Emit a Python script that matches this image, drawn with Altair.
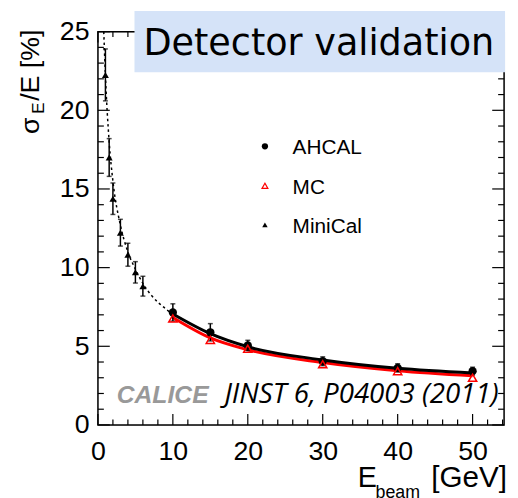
import altair as alt
import pandas as pd

# ---------------- data ----------------
# AHCAL (black filled circles)
AH_E = [10, 15, 20, 30, 40, 50]
AH_V = [7.15, 5.89, 5.05, 4.05, 3.63, 3.42]
AH_ERR = [0.55, 0.55, 0.33, 0.28, 0.26, 0.25]

# MC (red open triangles)
MC_E = [10, 15, 20, 30, 40, 50]
MC_V = [6.77, 5.41, 4.84, 3.86, 3.42, 3.00]

# MiniCal (black filled triangles)
MINI_E = [1, 1.5, 2, 3, 4, 5, 6]
MINI_V = [22.25, 17.0, 14.38, 12.22, 10.82, 9.70, 8.82]
MINI_ERR = [1.65, 1.2, 1.0, 0.85, 0.73, 0.68, 0.63]

# fitted curves
FIT_AH_E = [10, 15, 20, 30, 40, 50]
FIT_AH_V = [7.05, 5.80, 4.97, 4.13, 3.60, 3.30]
FIT_MC_E = [10, 15, 20, 30, 40, 50]
FIT_MC_V = [6.83, 5.53, 4.78, 3.97, 3.45, 3.13]
FIT_MINI_E = [0.78, 1, 1.5, 2, 3, 4, 5, 6, 8, 9, 10]
FIT_MINI_V = [25.0, 22.2, 18.0, 15.5, 12.7, 11.0, 9.9, 9.0, 7.8, 7.4, 7.0]

# axes
X_LABELS = [0, 10, 20, 30, 40, 50]
Y_LABELS = [0, 5, 10, 15, 20, 25]
X_MINOR = [v for v in range(2, 55, 2) if v % 10 != 0]
Y_MINOR = [v for v in range(1, 25) if v % 5 != 0]
X_DOMAIN = [0, 54.2]
Y_DOMAIN = [0, 25]

LEGEND = ["AHCAL", "MC", "MiniCal"]
TITLE = "Detector validation"
REF_GREY = "CALICE"
REF = "JINST 6, P04003 (2011)"

W, H = 411, 398
FONT = "Liberation Sans"

xscale = alt.Scale(domain=X_DOMAIN, nice=False, zero=False)
yscale = alt.Scale(domain=Y_DOMAIN, nice=False, zero=False)
xaxis = alt.Axis(values=X_LABELS, labelFontSize=27, labelFont=FONT, labelColor="black",
                 ticks=False, tickSize=0, domain=False, grid=False, labelPadding=14,
                 title=None, labelFlush=False, labelOverlap=False)
yaxis = alt.Axis(values=Y_LABELS, labelFontSize=27, labelFont=FONT, labelColor="black",
                 ticks=False, tickSize=0, domain=False, grid=False, labelPadding=9,
                 title=None, labelFlush=False, labelOverlap=False)


def X(field):
    return alt.X(f"{field}:Q", scale=xscale, axis=xaxis)


def Y(field):
    return alt.Y(f"{field}:Q", scale=yscale, axis=yaxis)


one = alt.Data(values=[{"a": 1}])

layers = []

# frame
layers.append(alt.Chart(one).mark_rect(filled=False, stroke="black", strokeWidth=1.5).encode(
    x=alt.value(0), x2=alt.value(W), y=alt.value(0), y2=alt.value(H)))


def xticks(vals, length, top):
    df = pd.DataFrame({"t": vals})
    y0 = 0 if top else H
    y1 = length if top else H - length
    return alt.Chart(df).mark_rule(color="black", strokeWidth=1.2).encode(
        x=X("t"), y=alt.value(y0), y2=alt.value(y1))


def yticks(vals, length, right):
    df = pd.DataFrame({"t": vals})
    x0 = W if right else 0
    x1 = W - length if right else length
    return alt.Chart(df).mark_rule(color="black", strokeWidth=1.2).encode(
        y=Y("t"), x=alt.value(x0), x2=alt.value(x1))


for top in (False, True):
    layers.append(xticks(X_LABELS, 11, top))
    layers.append(xticks(X_MINOR, 5.5, top))
for right in (False, True):
    layers.append(yticks(Y_LABELS, 12, right))
    layers.append(yticks(Y_MINOR, 6, right))

# curves
fit_mini = pd.DataFrame({"e": FIT_MINI_E, "v": FIT_MINI_V})
fit_mc = pd.DataFrame({"e": FIT_MC_E, "v": FIT_MC_V})
fit_ah = pd.DataFrame({"e": FIT_AH_E, "v": FIT_AH_V})
layers.append(alt.Chart(fit_mini).mark_line(color="black", strokeWidth=1.5, strokeDash=[2.5, 3],
                                            interpolate="monotone").encode(x=X("e"), y=Y("v")))
layers.append(alt.Chart(fit_mc).mark_line(color="red", strokeWidth=3,
                                          interpolate="monotone").encode(x=X("e"), y=Y("v")))
layers.append(alt.Chart(fit_ah).mark_line(color="black", strokeWidth=3,
                                          interpolate="monotone").encode(x=X("e"), y=Y("v")))

# error bars
mini = pd.DataFrame({"e": MINI_E, "v": MINI_V, "err": MINI_ERR})
mini["lo"] = mini["v"] - mini["err"]
mini["hi"] = mini["v"] + mini["err"]
ah = pd.DataFrame({"e": AH_E, "v": AH_V, "err": AH_ERR})
ah["lo"] = ah["v"] - ah["err"]
ah["hi"] = ah["v"] + ah["err"]
mc = pd.DataFrame({"e": MC_E, "v": MC_V})

for df in (mini, ah):
    layers.append(alt.Chart(df).mark_rule(color="black", strokeWidth=1.5).encode(
        x=X("e"), y=Y("lo"), y2="hi"))
    for f in ("lo", "hi"):
        layers.append(alt.Chart(df).mark_tick(color="black", orient="horizontal", size=5,
                                              thickness=1.5).encode(x=X("e"), y=Y(f)))

layers.append(alt.Chart(mini).mark_point(shape="triangle-up", filled=True, color="black",
                                         size=50, opacity=1).encode(x=X("e"), y=Y("v")))
layers.append(alt.Chart(ah).mark_point(shape="circle", filled=True, color="black",
                                       size=70, opacity=1).encode(x=X("e"), y=Y("v")))
layers.append(alt.Chart(mc).mark_point(shape="triangle-up", filled=False, color="red",
                                       strokeWidth=1.5, size=70, opacity=1).encode(x=X("e"), y=Y("v")))


def txt(s, x, y, size, font=FONT, align="left", **kw):
    return alt.Chart(one).mark_text(text=s, fontSize=size, font=font, align=align,
                                    baseline="alphabetic", **kw).encode(
        x=alt.value(x), y=alt.value(y))


# title box
layers.append(alt.Chart(one).mark_rect(color="#d5e3f8").encode(
    x=alt.value(37), x2=alt.value(412), y=alt.value(-21), y2=alt.value(41)))
layers.append(txt(TITLE, 46, 24, 37, font="DejaVu Sans", color="black"))

# reference text
layers.append(txt(REF_GREY, 19, 376, 25, fontStyle="italic", fontWeight="bold", color="#999999"))
layers.append(txt(REF, 128, 376, 28, font="Open Sans", fontStyle="italic", color="black"))

# legend
LX, LT = 169, 197
LEG_Y = [116, 156, 195.5]
layers.append(alt.Chart(one).mark_point(shape="circle", filled=True, color="black", size=40,
                                        opacity=1).encode(x=alt.value(LX), y=alt.value(LEG_Y[0])))
layers.append(alt.Chart(one).mark_point(shape="triangle-up", filled=False, color="red", size=35,
                                        strokeWidth=1.2, opacity=1).encode(x=alt.value(LX), y=alt.value(LEG_Y[1])))
layers.append(alt.Chart(one).mark_point(shape="triangle-up", filled=True, color="black", size=30,
                                        opacity=1).encode(x=alt.value(LX), y=alt.value(LEG_Y[2])))
for lab, ly in zip(LEGEND, LEG_Y):
    layers.append(txt(lab, LT, ly + 8, 21, color="black"))

# y axis title: sigma_E/E [%]
layers.append(txt("σ", -59.3, 103.7, 27, angle=270, color="black"))
layers.append(txt("E", -55, 83, 17, angle=270, color="black"))
layers.append(txt("/E [%]", -59.3, 70, 27, angle=270, color="black"))

# x axis title: E_beam [GeV]
layers.append(txt("E", 263, 461, 29, color="black"))
layers.append(txt("beam", 281, 472, 18, color="black"))
layers.append(txt("[GeV]", 414, 461, 30, align="right", color="black"))

chart = alt.layer(*layers).properties(
    width=W, height=H,
    autosize=alt.AutoSizeParams(type="none"),
    padding={"left": 91, "top": 21, "right": 6, "bottom": 71},
).configure_view(stroke="transparent").configure(background="white")

chart.save("out.html", embed_options={"renderer": "svg", "actions": False})
